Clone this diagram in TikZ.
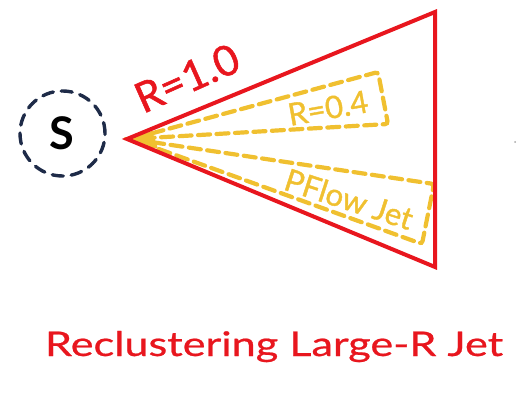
\documentclass[tikz,border=0pt]{standalone}
\usepackage{fontspec}
\setmainfont{Lato}
\newfontfamily\gill[FakeBold=1.2]{Lato}
\newfontfamily\gilltitle[FakeBold=0.6]{Lato}
\definecolor{jetred}{HTML}{E8161E}
\definecolor{jetgold}{HTML}{F0C030}
\definecolor{navy}{HTML}{1E2B48}
\begin{document}
\begin{tikzpicture}[x=1pt,y=-1pt,
  redline/.style={draw=jetred,line width=4pt,line join=miter},
  golddash/.style={draw=jetgold,line width=4.2pt,dash pattern=on 12pt off 6.5pt,rounded corners=3pt,line cap=round},
  circdash/.style={draw=navy,line width=3.4pt,dash pattern=on 11pt off 8pt,line cap=round}]
\useasboundingbox (0,0) rectangle (519,411);
% red cone
\coordinate (A) at (127,139);
\coordinate (T) at (435,12);
\coordinate (B) at (435,267);
% gold cones
\coordinate (Y) at (131,139);
\coordinate (P1) at (378,72);
\coordinate (P2) at (388,124);
\coordinate (Q1) at (434,184);
\coordinate (Q2) at (422,244);
\fill[jetgold] (129,139) -- (152,131) -- (158,149) -- cycle;
\draw[golddash] (Y) -- (P1) -- (P2) -- cycle;
\draw[golddash] (Y) -- (Q1) -- (Q2) -- cycle;
\draw[redline] (A) -- (T) -- (B) -- cycle;
% S circle
\node[circle,circdash,minimum size=85pt,inner sep=0pt] (S) at (62.5,133.5) {};
\node[font=\bfseries\fontsize{45}{45}\selectfont,text=black] (Slab) at (62,133) {S};
% labels
\node[text=jetred,font=\gill\fontsize{42}{42}\selectfont,rotate=24] (r10) at (187,78) {R=1.0};
\node[text=jetgold,font=\gill\fontsize{31}{31}\selectfont,rotate=10] (r04) at (328,108) {R=0.4};
\node[text=jetgold,font=\gill\fontsize{31}{31}\selectfont,rotate=-18] (pflow) at (349,199) {PFlow Jet};
% title
\node[text=jetred,inner sep=0pt,anchor=base] (title) at (274,356) {\resizebox{458pt}{25pt}{\gilltitle\fontsize{33}{33}\selectfont Reclustering Large-R Jet}};
% stray dot
\fill[gray!70] (515,142) circle (1pt);
\end{tikzpicture}
\end{document}
